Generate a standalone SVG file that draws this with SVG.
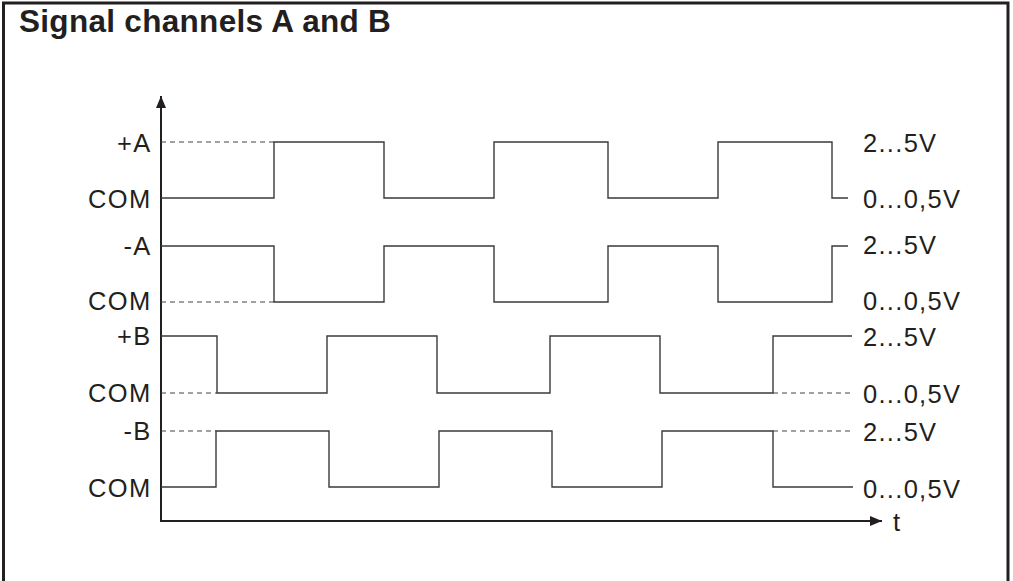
<svg xmlns="http://www.w3.org/2000/svg" width="1013" height="581" viewBox="0 0 1013 581">
<style>
.lbl{font-family:"Liberation Sans",Arial,sans-serif;font-size:25.5px;letter-spacing:1.3px;fill:#231f20}
.ttl{font-family:"Liberation Sans",Arial,sans-serif;font-size:31.5px;font-weight:bold;letter-spacing:0.3px;fill:#231f20}
.wave{fill:none;stroke:#3a3a3a;stroke-width:1.4}
.dash{fill:none;stroke:#444;stroke-width:1.2;stroke-dasharray:5 4}
.axis{fill:none;stroke:#231f20;stroke-width:2}
</style>
<defs>
<marker id="arr" viewBox="0 0 12 10" refX="12" refY="5" markerWidth="12" markerHeight="10" markerUnits="userSpaceOnUse" orient="auto">
<path d="M0,0 L12,5 L0,10 Z" fill="#231f20"/>
</marker>
</defs>
<rect width="1013" height="581" fill="#fff"/>
<path d="M3.5,583 V3 H1008 V583" fill="none" stroke="#231f20" stroke-width="3"/>
<text class="ttl" x="19" y="32">Signal channels A and B</text>
<g id="connectors">
<path class="axis" d="M161,521 V96" marker-end="url(#arr)"/>
<path class="axis" d="M160,521 H882" marker-end="url(#arr)"/>
<text class="lbl" x="893" y="531">t</text>
</g>
<g id="signal-plusA">
<path class="dash" d="M161,142 H274"/>
<path class="wave" d="M161,198 H274 V142 H384 V198 H494 V142 H608 V198 H718 V142 H832 V198 H848"/>
<text class="lbl" x="151.5" y="152" text-anchor="end">+A</text>
<text class="lbl" x="151.5" y="208" text-anchor="end">COM</text>
<text class="lbl" x="863" y="152">2...5V</text>
<text class="lbl" x="863" y="208">0...0,5V</text>
</g>
<g id="signal-minusA">
<path class="dash" d="M161,302 H274"/>
<path class="wave" d="M161,246 H274 V302 H384 V246 H494 V302 H608 V246 H718 V302 H832 V246 H848"/>
<text class="lbl" x="151.5" y="255" text-anchor="end">-A</text>
<text class="lbl" x="151.5" y="310" text-anchor="end">COM</text>
<text class="lbl" x="863" y="254">2...5V</text>
<text class="lbl" x="863" y="310">0...0,5V</text>
</g>
<g id="signal-plusB">
<path class="dash" d="M161,393 H217 M773,393 H850"/>
<path class="wave" d="M161,336 H217 V393 H327 V336 H437 V393 H550 V336 H660 V393 H773 V336 H852"/>
<text class="lbl" x="151.5" y="345" text-anchor="end">+B</text>
<text class="lbl" x="151.5" y="402" text-anchor="end">COM</text>
<text class="lbl" x="863" y="346">2...5V</text>
<text class="lbl" x="863" y="403">0...0,5V</text>
</g>
<g id="signal-minusB">
<path class="dash" d="M161,431 H216 M773,431 H850"/>
<path class="wave" d="M161,487 H216 V431 H329 V487 H439 V431 H552 V487 H662 V431 H773 V487 H853"/>
<text class="lbl" x="151.5" y="440" text-anchor="end">-B</text>
<text class="lbl" x="151.5" y="497" text-anchor="end">COM</text>
<text class="lbl" x="863" y="441">2...5V</text>
<text class="lbl" x="863" y="498">0...0,5V</text>
</g>
</svg>
